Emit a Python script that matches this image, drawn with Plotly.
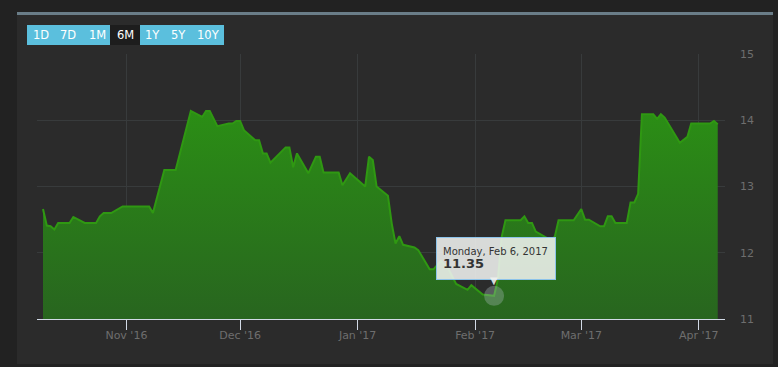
import plotly.graph_objects as go
import pandas as pd

# ---- data ----
dates = [
    "2016-10-10", "2016-10-11", "2016-10-12", "2016-10-13", "2016-10-14", "2016-10-17",
    "2016-10-18", "2016-10-21", "2016-10-24", "2016-10-25", "2016-10-26", "2016-10-28",
    "2016-10-31", "2016-11-07", "2016-11-08", "2016-11-09", "2016-11-10", "2016-11-11",
    "2016-11-14", "2016-11-18", "2016-11-21", "2016-11-22", "2016-11-23", "2016-11-25",
    "2016-11-28", "2016-11-29", "2016-11-30", "2016-12-01", "2016-12-02", "2016-12-05",
    "2016-12-06", "2016-12-07", "2016-12-08", "2016-12-09", "2016-12-13", "2016-12-14",
    "2016-12-15", "2016-12-16", "2016-12-19", "2016-12-21", "2016-12-22", "2016-12-23",
    "2016-12-27", "2016-12-28", "2016-12-30", "2017-01-03", "2017-01-04", "2017-01-05",
    "2017-01-06", "2017-01-09", "2017-01-10", "2017-01-11", "2017-01-12", "2017-01-13",
    "2017-01-16", "2017-01-17", "2017-01-20", "2017-01-21", "2017-01-23", "2017-01-25",
    "2017-01-27", "2017-01-30", "2017-01-31", "2017-02-02", "2017-02-03", "2017-02-06",
    "2017-02-07", "2017-02-08", "2017-02-09", "2017-02-13", "2017-02-14", "2017-02-15",
    "2017-02-16", "2017-02-17", "2017-02-20", "2017-02-21", "2017-02-22", "2017-02-23",
    "2017-02-27", "2017-03-01", "2017-03-02", "2017-03-03", "2017-03-06", "2017-03-07",
    "2017-03-08", "2017-03-09", "2017-03-10", "2017-03-13", "2017-03-14", "2017-03-15",
    "2017-03-16", "2017-03-17", "2017-03-20", "2017-03-21", "2017-03-22", "2017-03-23",
    "2017-03-27", "2017-03-29", "2017-03-30", "2017-04-04", "2017-04-05", "2017-04-06",
]
prices = [
    12.66, 12.41, 12.40, 12.35, 12.45, 12.45,
    12.54, 12.45, 12.45, 12.55, 12.60, 12.60,
    12.70, 12.70, 12.60, 12.82, 13.00, 13.25,
    13.25, 14.14, 14.05, 14.14, 14.14, 13.91,
    13.95, 13.95, 13.99, 13.99, 13.85, 13.70,
    13.70, 13.50, 13.50, 13.36, 13.59, 13.59,
    13.29, 13.50, 13.20, 13.45, 13.45, 13.21,
    13.21, 13.02, 13.20, 13.00, 13.45, 13.40,
    13.00, 12.86, 12.44, 12.14, 12.25, 12.12,
    12.08, 12.04, 11.75, 11.75, 11.88, 11.75,
    11.53, 11.44, 11.51, 11.42, 11.37, 11.35,
    11.60, 12.24, 12.49, 12.49, 12.55, 12.45,
    12.45, 12.32, 12.22, 12.20, 12.24, 12.49,
    12.49, 12.66, 12.50, 12.50, 12.40, 12.40,
    12.55, 12.55, 12.45, 12.45, 12.76, 12.76,
    12.89, 14.09, 14.09, 14.02, 14.09, 14.04,
    13.66, 13.75, 13.95, 13.95, 13.99, 13.94,
]
range_buttons = ["1D", "7D", "1M", "6M", "1Y", "5Y", "10Y"]
active_button = "6M"
hover_date = "2017-02-06"
y_ticks = [11, 12, 13, 14, 15]

# ---- geometry helpers (pixel -> paper) ----
W, H = 778, 367
L, R, T, B = 37, 725, 54, 319
pw, ph = R - L, B - T


def px(x):
    return (x - L) / pw


def py(y):
    return (B - y) / ph


FONT = "DejaVu Sans"

fig = go.Figure()

fig.add_trace(go.Scatter(
    x=dates, y=prices, mode="lines",
    line=dict(color="#2f9812", width=2),
    fill="tozeroy",
    fillgradient=dict(type="vertical",
                      colorscale=[[0, "#28651f"], [1, "#2b8f15"]],
                      start=11, stop=14.2),
    hoverinfo="skip", showlegend=False,
))

hi = dates.index(hover_date)
fig.add_trace(go.Scatter(
    x=[dates[hi]], y=[prices[hi]], mode="markers",
    marker=dict(size=20, color="rgba(170,185,185,0.35)", line=dict(width=0)),
    hoverinfo="skip", showlegend=False, cliponaxis=False,
))

shapes = [
    # panel
    dict(type="rect", xref="paper", yref="paper", layer="below",
         x0=px(17), x1=px(773), y0=py(364), y1=py(15),
         fillcolor="#2b2b2b", line=dict(width=0)),
    dict(type="rect", xref="paper", yref="paper", layer="below",
         x0=px(17), x1=px(773), y0=py(15), y1=py(12),
         fillcolor="#6a7d88", line=dict(width=0)),
    # range selector
    dict(type="rect", xref="paper", yref="paper", layer="above",
         x0=px(27), x1=px(224), y0=py(45), y1=py(25),
         fillcolor="#5bbfdd", line=dict(width=0)),
]

btn_centers = [41, 68, 97, 125, 152, 178, 208]
btn_edges = [27, 55, 82, 110, 140, 165, 192, 224]
annotations = []
for i, b in enumerate(range_buttons):
    if b == active_button:
        shapes.append(dict(type="rect", xref="paper", yref="paper", layer="above",
                           x0=px(btn_edges[i]), x1=px(btn_edges[i + 1]),
                           y0=py(45), y1=py(25),
                           fillcolor="#1d1d1d", line=dict(width=0)))
    annotations.append(dict(
        x=px(btn_centers[i]), y=py(35), xref="paper", yref="paper",
        text=b, showarrow=False, xanchor="center", yanchor="middle",
        font=dict(family=FONT, size=11.5, color="#ffffff"),
    ))

# tooltip
d = pd.Timestamp(dates[hi])
tip_text = (f"{d.strftime('%A')}, {d.strftime('%b')} {d.day}, {d.year}"
            f"<br><span style='font-size:13px'><b>{prices[hi]:.2f}</b></span>")
annotations.append(dict(
    x=dates[hi], y=prices[hi], xref="x", yref="y",
    text=tip_text, showarrow=False, align="left",
    xanchor="center", yanchor="bottom", xshift=2, yshift=16,
    width=106, height=29, borderpad=6,
    bgcolor="rgba(240,242,240,0.88)", bordercolor="#8cc3ea", borderwidth=1,
    font=dict(family=FONT, size=10, color="#333333"),
))
annotations.append(dict(
    x=dates[hi], y=prices[hi], xref="x", yref="y",
    text="▼", showarrow=False, xanchor="center", yanchor="bottom",
    yshift=8, font=dict(family=FONT, size=10, color="rgba(240,242,240,0.9)"),
))

fig.update_layout(
    width=W, height=H,
    margin=dict(l=L, r=W - R, t=T, b=H - B, pad=0),
    paper_bgcolor="#222222",
    plot_bgcolor="rgba(0,0,0,0)",
    shapes=shapes, annotations=annotations,
    showlegend=False,
    xaxis=dict(
        type="date",
        range=["2016-10-08 10:00", "2017-04-07 22:00"],
        tick0="2016-11-01", dtick="M1", tickformat="%b '%y",
        showgrid=True, gridcolor="#383b3c", gridwidth=1,
        showline=True, linecolor="#d2dae6", linewidth=1,
        ticks="outside", ticklen=10, tickcolor="#d2dae6", tickwidth=1,
        ticklabelstandoff=-4,
        tickfont=dict(family=FONT, size=11, color="#6e6e6e"),
        zeroline=False, fixedrange=True,
    ),
    yaxis=dict(
        range=[11, 15], side="right", tickvals=y_ticks,
        showgrid=True, gridcolor="#383b3c", gridwidth=1,
        showline=False, ticks="", zeroline=False,
        ticklabelstandoff=14,
        tickfont=dict(family=FONT, size=11, color="#6e6e6e"),
        fixedrange=True,
    ),
)

fig.write_html("out.html")
